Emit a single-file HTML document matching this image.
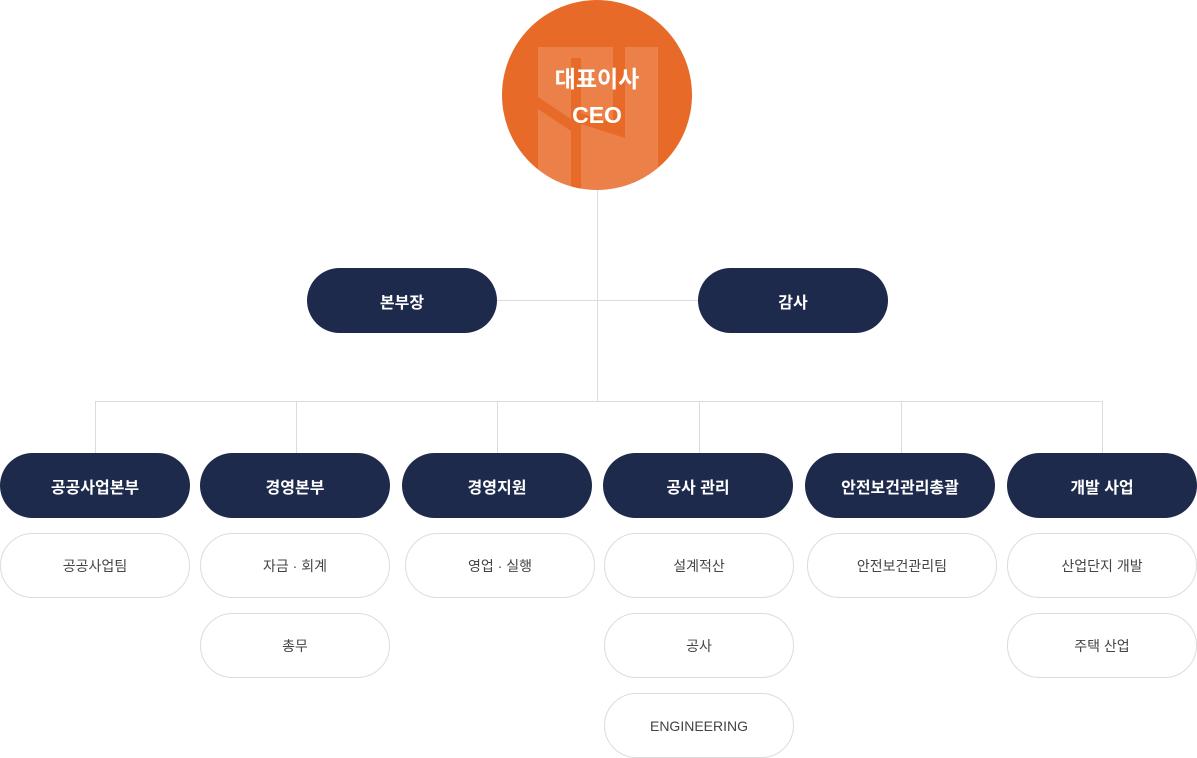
<!DOCTYPE html>
<html><head><meta charset="utf-8"><style>
body{margin:0;width:1197px;height:758px;background:#fff;position:relative;overflow:hidden;font-family:"Liberation Sans","Noto Sans CJK KR",sans-serif}
.l{position:absolute;background:#dcdcdc}
.d,.w{position:absolute;width:190px;height:65px;border-radius:33px;display:flex;align-items:center;justify-content:center;box-sizing:border-box}
.d{background:#1e2a4c;color:#fff;font-weight:bold;font-size:16px}
.w{background:#fff;border:1px solid #dcdcdc;color:#444;font-size:14px}
</style></head><body>
<div class="l" style="left:597px;top:185px;width:1px;height:216px"></div>
<div class="l" style="left:497px;top:300px;width:201px;height:1px"></div>
<div class="l" style="left:95px;top:401px;width:1008px;height:1px"></div>
<div class="l" style="left:95px;top:401px;width:1px;height:52px"></div>
<div class="l" style="left:296px;top:401px;width:1px;height:52px"></div>
<div class="l" style="left:497px;top:401px;width:1px;height:52px"></div>
<div class="l" style="left:699px;top:401px;width:1px;height:52px"></div>
<div class="l" style="left:901px;top:401px;width:1px;height:52px"></div>
<div class="l" style="left:1102px;top:401px;width:1px;height:52px"></div>
<svg style="position:absolute;left:502px;top:0" width="190" height="190">
<defs><clipPath id="c"><circle cx="95" cy="95" r="95"/></clipPath></defs>
<circle cx="95" cy="95" r="95" fill="#e86a28"/>
<g clip-path="url(#c)">
<rect x="36" y="47" width="120" height="143" fill="#fff" fill-opacity="0.15"/>
<rect x="69" y="58" width="10" height="132" fill="#e86a28"/>
<rect x="111" y="47" width="12" height="80" fill="#e86a28"/>
<path d="M36 97L69 119V131L36 109Z" fill="#e86a28"/>
<path d="M79 113L123 127V138L79 124Z" fill="#e86a28"/>
</g>
<text x="95" y="87" text-anchor="middle" fill="#fff" font-size="23" font-weight="bold" font-family="Liberation Sans,Noto Sans CJK KR,sans-serif">대표이사</text>
<text x="95" y="123" text-anchor="middle" fill="#fff" font-size="23" font-weight="bold" font-family="Liberation Sans,Noto Sans CJK KR,sans-serif">CEO</text>
</svg>
<div class="d" style="left:307px;top:268px">본부장</div>
<div class="d" style="left:698px;top:268px">감사</div>
<div class="d" style="left:0;top:453px">공공사업본부</div>
<div class="d" style="left:200px;top:453px">경영본부</div>
<div class="d" style="left:402px;top:453px">경영지원</div>
<div class="d" style="left:603px;top:453px">공사 관리</div>
<div class="d" style="left:805px;top:453px">안전보건관리총괄</div>
<div class="d" style="left:1007px;top:453px">개발 사업</div>
<div class="w" style="left:0;top:533px">공공사업팀</div>
<div class="w" style="left:200px;top:533px">자금 · 회계</div>
<div class="w" style="left:200px;top:613px">총무</div>
<div class="w" style="left:405px;top:533px">영업 · 실행</div>
<div class="w" style="left:604px;top:533px">설계적산</div>
<div class="w" style="left:604px;top:613px">공사</div>
<div class="w" style="left:604px;top:693px">ENGINEERING</div>
<div class="w" style="left:807px;top:533px">안전보건관리팀</div>
<div class="w" style="left:1007px;top:533px">산업단지 개발</div>
<div class="w" style="left:1007px;top:613px">주택 산업</div>
</body></html>
